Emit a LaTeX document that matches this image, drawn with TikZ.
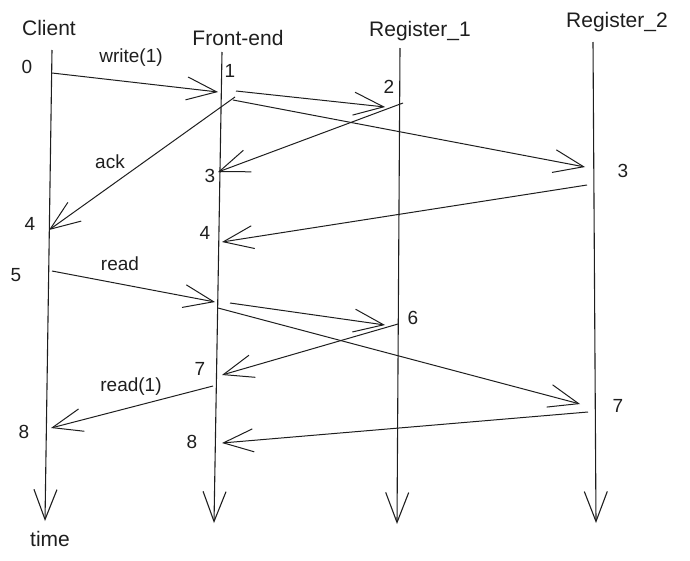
\documentclass[tikz,border=0pt]{standalone}
\usepackage{fontspec}
\setmainfont{Liberation Sans}
\usetikzlibrary{
  positioning,
  arrows.meta
}
\definecolor{ink}{HTML}{1E1E1E}

\tikzset{
  barb/.style={-{Straight Barb[length=30pt,width=23pt]}},
  lifeline/.style={draw=ink, line width=1.1pt, barb},
  msg/.style={draw=ink, line width=1pt, barb},
  actor/.style={font=\fontsize{21}{24}\selectfont, text=ink},
  stamp/.style={font=\fontsize{19}{22}\selectfont, text=ink},
  msgtext/.style={font=\fontsize{19}{22}\selectfont, text=ink}
}

\begin{document}
\begin{tikzpicture}[x=1pt, y=-1pt]
  \useasboundingbox (0,0) rectangle (690,560);

  % Actors
  \node[actor] (client) at (49, 28) {Client};
  \node[actor] (frontend) at (238, 38) {Front-end};
  \node[actor] (reg1) at (420, 31) {Register\_1};
  \node[actor] (reg2) at (617, 22) {Register\_2};
  \node[actor] (time) at (50, 539) {time};

  % Lifelines
  \coordinate (cl-top) at (52, 50);
  \coordinate (cl-bot) at (45, 521);
  \coordinate (fe-top) at (222, 52);
  \coordinate (fe-bot) at (214, 523);
  \coordinate (r1-top) at (400, 48);
  \coordinate (r1-bot) at (397, 524);
  \coordinate (r2-top) at (593, 42);
  \coordinate (r2-bot) at (596, 523);
  \foreach \l in {cl, fe, r1, r2}
    \draw[lifeline] (\l-top) -- (\l-bot);

  % Write phase
  \coordinate (w-c0) at (52, 73);
  \coordinate (w-fe1) at (218, 92);
  \coordinate (w-fe1a) at (236, 91);
  \coordinate (w-r1) at (385, 107);
  \coordinate (w-fe1b) at (233, 100);
  \coordinate (w-r2) at (585, 167);
  \coordinate (w-r1a) at (403, 103);
  \coordinate (w-fe3) at (218, 172);
  \coordinate (w-fe1c) at (235, 97);
  \coordinate (w-c4) at (49, 230);
  \coordinate (w-r2a) at (587, 185);
  \coordinate (w-fe4) at (222, 242);

  % Read phase
  \coordinate (r-c5) at (52, 271);
  \coordinate (r-fe5) at (215, 302);
  \coordinate (r-fe5a) at (230, 303);
  \coordinate (r-r1) at (385, 325);
  \coordinate (r-fe5b) at (218, 308);
  \coordinate (r-r2) at (580, 404);
  \coordinate (r-r1a) at (398, 324);
  \coordinate (r-fe7) at (222, 375);
  \coordinate (r-fe7a) at (213, 386);
  \coordinate (r-c8) at (51, 428);
  \coordinate (r-r2a) at (588, 412);
  \coordinate (r-fe8) at (222, 443);

  \foreach \from/\to in {w-c0/w-fe1, w-fe1a/w-r1, w-fe1b/w-r2, w-r1a/w-fe3,
                         w-fe1c/w-c4, w-r2a/w-fe4,
                         r-c5/r-fe5, r-fe5a/r-r1, r-fe5b/r-r2, r-r1a/r-fe7,
                         r-fe7a/r-c8, r-r2a/r-fe8}
    \draw[msg] (\from) -- (\to);

  % Message labels
  \node[msgtext] (write-lbl) at (131, 58) {write(1)};
  \node[msgtext] (ack-lbl) at (110, 162) {ack};
  \node[msgtext] (read-lbl) at (120, 264) {read};
  \node[msgtext] (readv-lbl) at (131, 387) {read(1)};

  % Time stamps
  \node[stamp] (t-c0) at (27, 67) {0};
  \node[stamp] (t-c4) at (30, 224) {4};
  \node[stamp] (t-c5) at (16, 275) {5};
  \node[stamp] (t-c8) at (24, 432) {8};
  \node[stamp] (t-fe1) at (230, 71) {1};
  \node[stamp] (t-fe3) at (210, 176) {3};
  \node[stamp] (t-fe4) at (205, 233) {4};
  \node[stamp] (t-fe7) at (200, 369) {7};
  \node[stamp] (t-fe8) at (192, 442) {8};
  \node[stamp] (t-r1a) at (389, 87) {2};
  \node[stamp] (t-r1b) at (413, 318) {6};
  \node[stamp] (t-r2a) at (623, 171) {3};
  \node[stamp] (t-r2b) at (618, 406) {7};
\end{tikzpicture}
\end{document}
